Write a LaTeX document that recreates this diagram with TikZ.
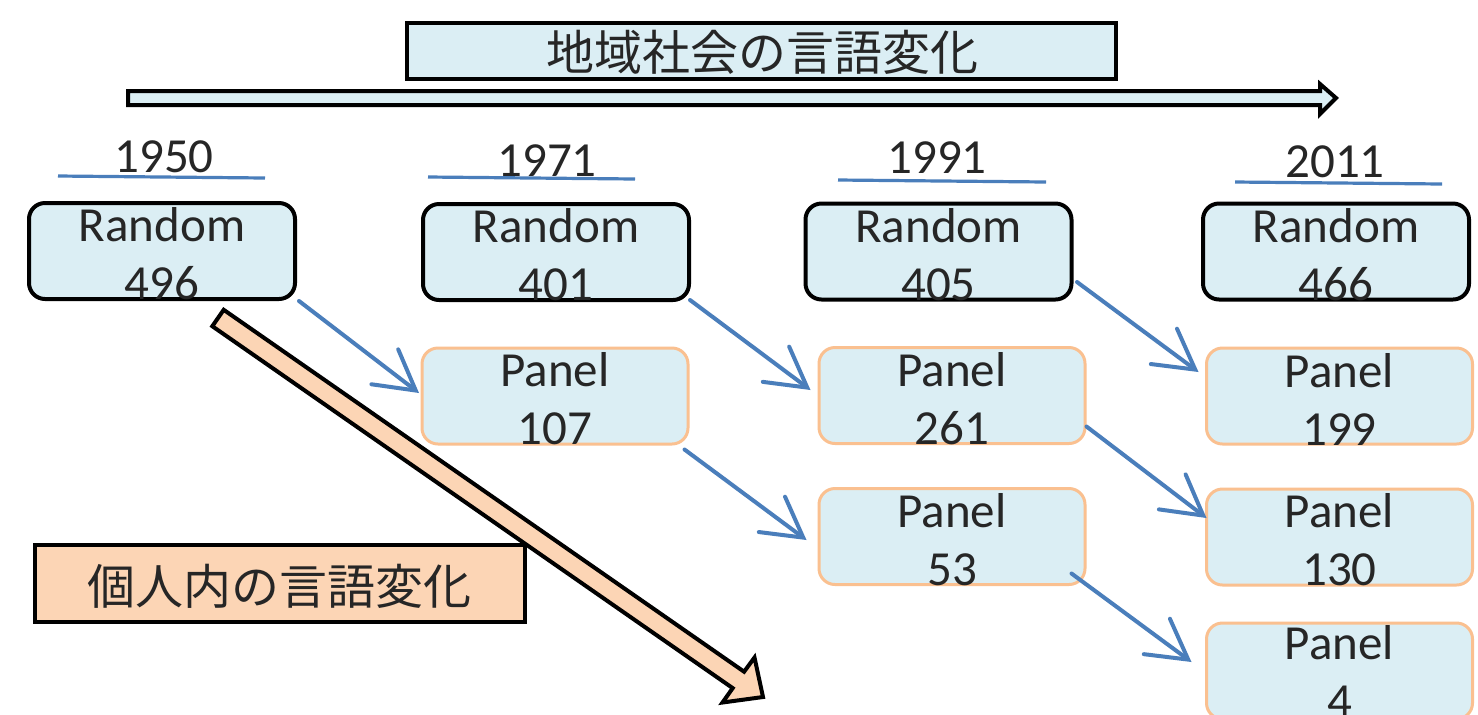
\documentclass[tikz,border=0pt]{standalone}
\usepackage{fontspec}
\setmainfont{Carlito}
\newfontfamily\jp{Noto Sans CJK JP}
\usetikzlibrary{arrows.meta,calc}
\definecolor{lb}{RGB}{219,238,244}
\definecolor{peach}{RGB}{252,213,181}
\definecolor{orb}{RGB}{250,192,144}
\definecolor{bl}{RGB}{74,126,187}
\definecolor{tc}{RGB}{38,38,38}
\tikzset{
  rbox/.style={draw=black, line width=2pt, fill=lb, rounded corners=8pt, minimum width=133pt, minimum height=48pt, inner sep=0pt},
  pbox/.style={draw=orb, line width=1.5pt, fill=lb, rounded corners=8pt, minimum width=133pt, minimum height=48pt, inner sep=0pt},
  txt/.style={font=\fontsize{24.5}{29}\selectfont, align=center, text=tc, inner sep=0pt},
  yr/.style={font=\fontsize{24.5}{29}\selectfont, text=tc, inner sep=0pt, anchor=base},
  uline/.style={draw=bl, line width=1.6pt},
  barrow/.style={draw=bl, line width=2pt, line cap=round, -{Straight Barb[length=19.5pt,width=22pt,line cap=round]}},
  jptxt/.style={font=\jp\fontsize{24}{28}\selectfont, text=tc, inner sep=0pt}
}
\begin{document}
\begin{tikzpicture}[x=0.5pt,y=-0.5pt]
\useasboundingbox (0,0) rectangle (1478,714);
\fill[white] (0,0) rectangle (1478,714);

% title
\node[draw=black, line width=2pt, fill=lb, minimum width=354.5pt, minimum height=28pt, inner sep=0pt] (title) at (761.5,51) {};
\node[jptxt] (titletxt) at (762,52) {地域社会の言語変化};

% top arrow
\draw[black, line width=2pt, fill=lb, line join=miter]
  (128,91) -- (1320,91) -- (1320,84) -- (1336,98) -- (1320,114) -- (1320,105) -- (128,105) -- cycle;

% years
\node[yr] (y1950) at (164,172) {1950};
\node[yr] (y1971) at (547,176) {1971};
\node[yr] (y1991) at (937,173) {1991};
\node[yr] (y2011) at (1335,177) {2011};
\draw[uline] (58,176) -- (265,178);
\draw[uline] (428,177) -- (635,179);
\draw[uline] (838,180) -- (1046,182);
\draw[uline] (1235,182) -- (1442,184);

% random boxes
\node[rbox] (r1950) at (162,251) {};
\node[rbox] (r1971) at (556,252) {};
\node[rbox] (r1991) at (938.5,251.5) {};
\node[rbox] (r2011) at (1336,251.5) {};
\node[txt] (t1950) at ([yshift=-1.5pt]r1950.center) {Random\\496};
\node[txt] (t1971) at ([yshift=-1.5pt]r1971.center) {Random\\401};
\node[txt] (t1991) at ([yshift=-1.5pt]r1991.center) {Random\\405};
\node[txt] (t2011) at ([yshift=-1.5pt]r2011.center) {Random\\466};

% panel boxes
\node[pbox] (p107) at (555,396) {};
\node[pbox] (p261) at (952,395.5) {};
\node[pbox] (p53) at (952,536.5) {};
\node[pbox] (p199) at (1339.5,396) {};
\node[pbox] (p130) at (1339.5,537) {};
\node[pbox] (p4) at (1339.5,671) {};
\node[txt] (t107) at ([yshift=-1.5pt]p107.center) {Panel\\107};
\node[txt] (t261) at ([yshift=-1.5pt]p261.center) {Panel\\261};
\node[txt] (t53) at ([yshift=-1.5pt]p53.center) {Panel\\53};
\node[txt] (t199) at ([yshift=-1.5pt]p199.center) {Panel\\199};
\node[txt] (t130) at ([yshift=-1.5pt]p130.center) {Panel\\130};
\node[txt] (t4) at ([yshift=0pt]p4.center) {Panel\\4};

% blue connectors
\draw[barrow] ([shift={(2,0)}]r1950.south east) -- ([shift={(-1.5,-3)}]p107.west);
\draw[barrow] ([shift={(-1,-2)}]r1971.south east) -- ([shift={(-7,-5.5)}]p261.west);
\draw[barrow] ([shift={(3.5,-19.5)}]r1991.south east) -- ([shift={(-6.5,-24)}]p199.west);
\draw[barrow] ([shift={(-5,4)}]p107.south east) -- ([shift={(-11,3.5)}]p53.west);
\draw[barrow] ([shift={(0,-18.5)}]p261.south east) -- ([shift={(1.5,-19)}]p130.west);
\draw[barrow] ([shift={(-15,-12.5)}]p53.south east) -- ([shift={(-13.5,-9)}]p4.west);

% big orange arrow
\draw[black, line width=2pt, fill=peach, line join=miter]
  (212.3,326.2) -- (732.7,688.1) -- (722.5,702.5) -- (763,697) -- (754.5,657.5) -- (744.1,671.7) -- (223.7,309.8) -- cycle;

% label box
\node[draw=black, line width=2pt, fill=peach, minimum width=245pt, minimum height=38.5pt, inner sep=0pt] (indiv) at (280,583.5) {};
\node[jptxt] (indivtxt) at (279,586) {個人内の言語変化};
\end{tikzpicture}
\end{document}
